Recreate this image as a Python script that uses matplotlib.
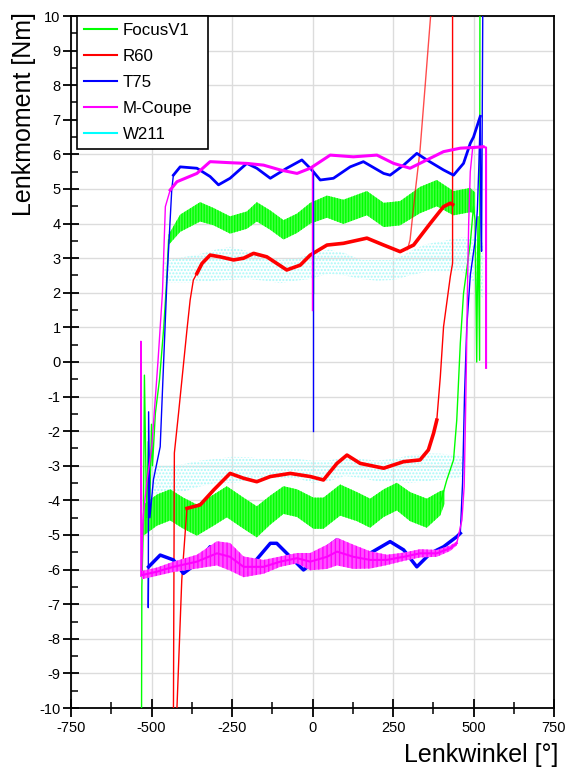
import numpy as np
import matplotlib.pyplot as plt
from matplotlib.lines import Line2D
from matplotlib.ticker import MultipleLocator

plt.rcParams['font.family'] = ['Liberation Sans', 'DejaVu Sans']
plt.rcParams['axes.unicode_minus'] = False
plt.rcParams['hatch.linewidth'] = 1.0

# ---- W211 (cyan, scattered dots) ----
cyan_up_x = [-460, -420, -359, -300, -256, -200, -150, -100, -50, -7, 50, 100,
             150, 200, 252, 303, 350, 407, 460, 500, 530]
cyan_up_lo = [2.3, 2.3, 2.3, 2.35, 2.37, 2.4, 2.35, 2.28, 2.35, 2.4, 2.55, 2.5,
              2.4, 2.35, 2.37, 2.5, 2.6, 2.6, 2.66, 2.3, 1.8]
cyan_up_hi = [2.9, 3.0, 3.1, 3.25, 3.33, 3.2, 3.05, 2.95, 3.0, 3.1, 3.25, 3.15,
              2.95, 2.95, 2.95, 3.2, 3.4, 3.5, 3.6, 3.6, 3.5]
cyan_lo_x = [-500, -450, -400, -350, -300, -250, -200, -150, -100, -50, 0, 50,
             100, 150, 200, 250, 300, 350, 400, 450, 470]
cyan_lo_lo = [-3.8, -3.8, -3.75, -3.6, -3.5, -3.5, -3.45, -3.4, -3.35, -3.35, -3.5,
              -3.45, -3.3, -3.35, -3.45, -3.45, -3.5, -3.45, -3.4, -3.35, -3.3]
cyan_lo_hi = [-3.0, -3.0, -2.95, -2.85, -2.8, -2.74, -2.75, -2.8, -2.8, -2.8, -2.85,
              -2.85, -2.75, -2.8, -2.85, -2.8, -2.7, -2.64, -2.65, -2.7, -2.75]

# ---- FocusV1 (green, wide noisy band) ----
green_up_x = [-447, -411, -349, -307, -256, -204, -173, -131, -90, -48, -7, 45, 96,
              169, 221, 272, 334, 386, 438, 490, 505]
green_up_y = [3.53, 4.01, 4.34, 4.2, 3.96, 4.1, 4.34, 4.1, 3.82, 4.01, 4.3, 4.49, 4.34,
              4.59, 4.25, 4.30, 4.68, 4.88, 4.59, 4.68, 4.6]
green_up_w = [0.15, 0.25, 0.28, 0.25, 0.25, 0.25, 0.28, 0.28, 0.28, 0.28, 0.3, 0.32, 0.35,
              0.35, 0.35, 0.35, 0.38, 0.38, 0.35, 0.35, 0.3]
green_lo_x = [-525, -483, -442, -401, -359, -307, -266, -214, -173, -131, -90, -48, 3,
              34, 86, 138, 179, 221, 262, 303, 355, 397, 410]
green_lo_y = [-4.57, -4.28, -4.13, -4.37, -4.57, -4.28, -4.04, -4.37, -4.62, -4.28, -3.99,
              -4.08, -4.37, -4.37, -3.99, -4.18, -4.37, -4.08, -3.89, -4.18, -4.37, -4.08, -3.9]
green_lo_w = [0.45, 0.45, 0.45, 0.45, 0.45, 0.45, 0.45, 0.45, 0.45, 0.42, 0.4, 0.4, 0.45,
              0.45, 0.45, 0.42, 0.42, 0.4, 0.4, 0.42, 0.42, 0.35, 0.2]
green_left_x = [-447, -452, -462, -475, -488, -497, -500, -505, -510, -515, -522, -525]
green_left_y = [3.53, 2.5, 1.0, -0.5, -1.48, -3.0, -1.8, -4.0, -2.3, -4.5, -0.38, -4.57]
green_right_x = [397, 417, 438, 448, 459, 469, 490, 500, 505, 510, 514, 519, 520]
green_right_y = [-4.08, -3.41, -2.83, -1.68, 0.54, 1.98, 3.43, 4.5, 4.1, 0.0, 4.2, 0.05, 10.5]
green_tail_x = [-525, -530, -531]
green_tail_y = [-4.57, -6.5, -10.5]
green_spike_x = [0, 0]
green_spike_y = [4.3, 2.0]

# ---- R60 (red) ----
red_up_x = [-359, -343, -318, -287, -245, -214, -183, -142, -80, -38, -7, 45, 96,
            169, 221, 272, 314, 366, 407, 428, 435]
red_up_y = [2.56, 2.85, 3.09, 3.04, 2.95, 3.0, 3.14, 3.04, 2.66, 2.8, 3.09, 3.38, 3.43,
            3.58, 3.38, 3.19, 3.38, 4.01, 4.49, 4.59, 4.55]
red_left_x = [-432, -429, -416, -390, -380, -370, -359]
red_left_y = [-10.5, -2.63, -1.48, 0.92, 1.79, 2.37, 2.56]
red_lo_x = [-423, -406, -390, -349, -307, -256, -214, -173, -131, -69, -7, 34, 76, 107,
            148, 221, 283, 334, 360, 376, 386]
red_lo_y = [-10.5, -6.3, -4.23, -4.13, -3.7, -3.22, -3.36, -3.46, -3.31, -3.22, -3.31,
            -3.41, -2.93, -2.69, -2.93, -3.07, -2.88, -2.83, -2.54, -2.06, -1.68]
red_right_x = [386, 397, 407, 428, 435, 435]
red_right_y = [-1.68, -0.42, 1.02, 2.47, 2.85, 10.5]
red_thin_x = [295, 303, 320, 334, 350, 371]
red_thin_y = [3.25, 3.53, 5.0, 6.13, 8.0, 10.5]

# ---- T75 (blue) ----
blue_up_x = [-432, -411, -359, -318, -292, -256, -204, -173, -131, -80, -33, -2, 24, 65,
             117, 158, 221, 241, 283, 324, 355, 407, 438, 469, 490, 500, 521]
blue_up_y = [5.40, 5.64, 5.6, 5.36, 5.12, 5.31, 5.74, 5.6, 5.31, 5.6, 5.84, 5.55, 5.26, 5.31,
             5.64, 5.79, 5.45, 5.40, 5.69, 6.03, 5.84, 5.55, 5.40, 5.74, 6.32, 6.5, 7.1]
blue_left_x = [-432, -437, -452, -473, -494, -505, -509, -510, -509]
blue_left_y = [5.40, 5.0, 2.37, -2.45, -3.4, -4.5, -1.44, -7.1, -5.92]
blue_lo_x = [-509, -473, -432, -401, -359, -318, -276, -225, -193, -131, -111, -69, -28,
             14, 34, 76, 117, 169, 241, 283, 324, 366, 407, 448, 459]
blue_lo_y = [-5.92, -5.58, -5.72, -6.11, -5.82, -5.34, -5.38, -5.82, -5.92, -5.24, -5.24,
             -5.63, -6.01, -5.72, -5.43, -5.14, -5.34, -5.58, -5.19, -5.43, -5.92, -5.53,
             -5.34, -5.05, -4.95]
blue_right_x = [459, 466, 472, 479, 490, 505, 512, 516, 521, 523, 525, 529]
blue_right_y = [-4.95, -3.5, -1.0, 1.0, 2.5, 3.5, 4.4, 5.5, 7.1, 4.0, 3.2, 10.5]
blue_spike_x = [0, 0]
blue_spike_y = [5.5, -2.0]

# ---- M-Coupe (magenta) ----
mag_up_x = [-442, -421, -359, -318, -256, -204, -152, -100, -48, -7, 55, 127, 200, 252,
            303, 355, 407, 459, 500, 530, 539, 539]
mag_up_y = [4.97, 5.21, 5.45, 5.79, 5.76, 5.74, 5.69, 5.55, 5.45, 5.6, 5.98, 5.93, 5.98,
            5.74, 5.6, 5.84, 6.08, 6.18, 6.2, 6.22, 6.2, -0.17]
mag_left_x = [-442, -457, -466, -480, -499, -515, -525, -533, -533, -530]
mag_left_y = [4.97, 4.49, 2.0, 0.0, -2.45, -3.5, -4.4, -6.2, 0.6, -6.16]
mag_lo_x = [-530, -483, -432, -359, -297, -256, -214, -152, -100, -48, -7, 45, 76, 127,
            179, 231, 283, 334, 386, 428, 448]
mag_lo_y = [-6.16, -6.06, -5.92, -5.77, -5.53, -5.63, -5.92, -5.92, -5.77, -5.67, -5.77,
            -5.63, -5.48, -5.63, -5.72, -5.72, -5.63, -5.53, -5.53, -5.38, -5.24]
mag_lo_w = [0.12, 0.12, 0.15, 0.2, 0.35, 0.4, 0.3, 0.2, 0.15, 0.15, 0.25, 0.35, 0.4, 0.35,
            0.25, 0.15, 0.12, 0.12, 0.1, 0.08, 0.06]
mag_right_x = [448, 464, 471, 475, 478, 481, 485, 490, 497]
mag_right_y = [-5.24, -4.57, -3.6, -1.68, 0.0, 2.0, 4.0, 5.5, 6.15]
mag_spike_x = [-3, -3]
mag_spike_y = [5.6, 1.5]

labels = ['FocusV1', 'R60', 'T75', 'M-Coupe', 'W211']
colors = ['#00ff00', '#ff0000', '#0000ff', '#ff00ff', '#00ffff']
GREEN, RED, BLUE, MAG, CYAN = colors

fig = plt.figure(figsize=(5.71, 7.71), dpi=100)
ax = fig.add_axes([71 / 571, 1 - 708 / 771, 483 / 571, 692 / 771])
ax.set_xlim(-750, 750)
ax.set_ylim(-10, 10)

# cyan dotted clouds
for x, lo, hi in [(cyan_up_x, cyan_up_lo, cyan_up_hi), (cyan_lo_x, cyan_lo_lo, cyan_lo_hi)]:
    ax.fill_between(x, lo, hi, facecolor='none', edgecolor='#a8f8f8', hatch='.....',
                    linewidth=0, zorder=2)

# green bands
for x, y, w in [(green_up_x, green_up_y, green_up_w), (green_lo_x, green_lo_y, green_lo_w)]:
    y = np.array(y)
    w = np.array(w)
    ax.fill_between(x, y - w, y + w, facecolor='#45ff45', edgecolor=GREEN, hatch='||||||',
                    linewidth=0, zorder=3)
for x, y in [(green_left_x, green_left_y), (green_right_x, green_right_y),
             (green_tail_x, green_tail_y), (green_spike_x, green_spike_y)]:
    ax.plot(x, y, color=GREEN, lw=1, zorder=3)

# red
ax.plot(red_up_x, red_up_y, color=RED, lw=2.6, zorder=4, solid_joinstyle='round')
ax.plot(red_lo_x[2:], red_lo_y[2:], color=RED, lw=2.6, zorder=4, solid_joinstyle='round')
for x, y in [(red_left_x, red_left_y), (red_lo_x[:3], red_lo_y[:3]),
             (red_right_x, red_right_y)]:
    ax.plot(x, y, color=RED, lw=1, zorder=4)
ax.plot(red_thin_x, red_thin_y, color=RED, lw=1, alpha=0.7, zorder=4)

# blue
ax.plot(blue_up_x, blue_up_y, color=BLUE, lw=2, zorder=5, solid_joinstyle='round')
ax.plot(blue_lo_x, blue_lo_y, color=BLUE, lw=2.5, zorder=5, solid_joinstyle='round')
for x, y in [(blue_left_x, blue_left_y), (blue_right_x, blue_right_y),
             (blue_spike_x, blue_spike_y)]:
    ax.plot(x, y, color=BLUE, lw=1, zorder=5)

# magenta
ax.plot(mag_up_x[:-2], mag_up_y[:-2], color=MAG, lw=2.2, zorder=6, solid_joinstyle='round')
ax.plot(mag_up_x[-3:], mag_up_y[-3:], color=MAG, lw=1.5, zorder=6)
ml_y = np.array(mag_lo_y)
ml_w = np.array(mag_lo_w)
ax.fill_between(mag_lo_x, ml_y - ml_w, ml_y + ml_w, facecolor='#ff50ff', edgecolor=MAG,
                hatch='||||', linewidth=0, zorder=6)
ax.plot(mag_lo_x, mag_lo_y, color=MAG, lw=1.5, zorder=6)
for x, y in [(mag_left_x, mag_left_y), (mag_right_x, mag_right_y),
             (mag_spike_x, mag_spike_y)]:
    ax.plot(x, y, color=MAG, lw=1, zorder=6)

# axes styling
ax.xaxis.set_major_locator(MultipleLocator(250))
ax.xaxis.set_minor_locator(MultipleLocator(125))
ax.yaxis.set_major_locator(MultipleLocator(1))
ax.yaxis.set_minor_locator(MultipleLocator(0.5))
ax.grid(True, which='major', color='#dcdcdc', lw=1, zorder=0)
ax.set_axisbelow(True)
for s in ax.spines.values():
    s.set_linewidth(1.3)
ax.tick_params(axis='x', which='major', direction='inout', length=13, width=1.3,
               labelsize=10.5, pad=2.5)
ax.tick_params(axis='x', which='minor', direction='inout', length=9, width=1.1)
ax.tick_params(axis='y', which='major', direction='inout', length=12, width=1.3,
               labelsize=10.5, pad=1.5)
ax.tick_params(axis='y', which='minor', direction='in', length=5, width=1.1)

handles = [Line2D([], [], color=c, lw=1.5) for c in colors]
leg = ax.legend(handles, labels, loc='upper left', bbox_to_anchor=(0.0124, 0, 0.271, 1.0),
                mode='expand', borderaxespad=0, fontsize=12.2, handlelength=1.95,
                handletextpad=0.35, labelspacing=0.65, borderpad=0.42, fancybox=False,
                framealpha=1, edgecolor='black')
leg.get_frame().set_linewidth(1.2)
leg.set_zorder(10)

fig.text(558 / 571, 1 - 762 / 771, 'Lenkwinkel [°]', ha='right', va='baseline', fontsize=18)
fig.text(24 / 571, 1 - 12 / 771, 'Lenkmoment [Nm]', ha='center', va='top', rotation=90,
         fontsize=18)

fig.savefig('out.png', dpi=100)
